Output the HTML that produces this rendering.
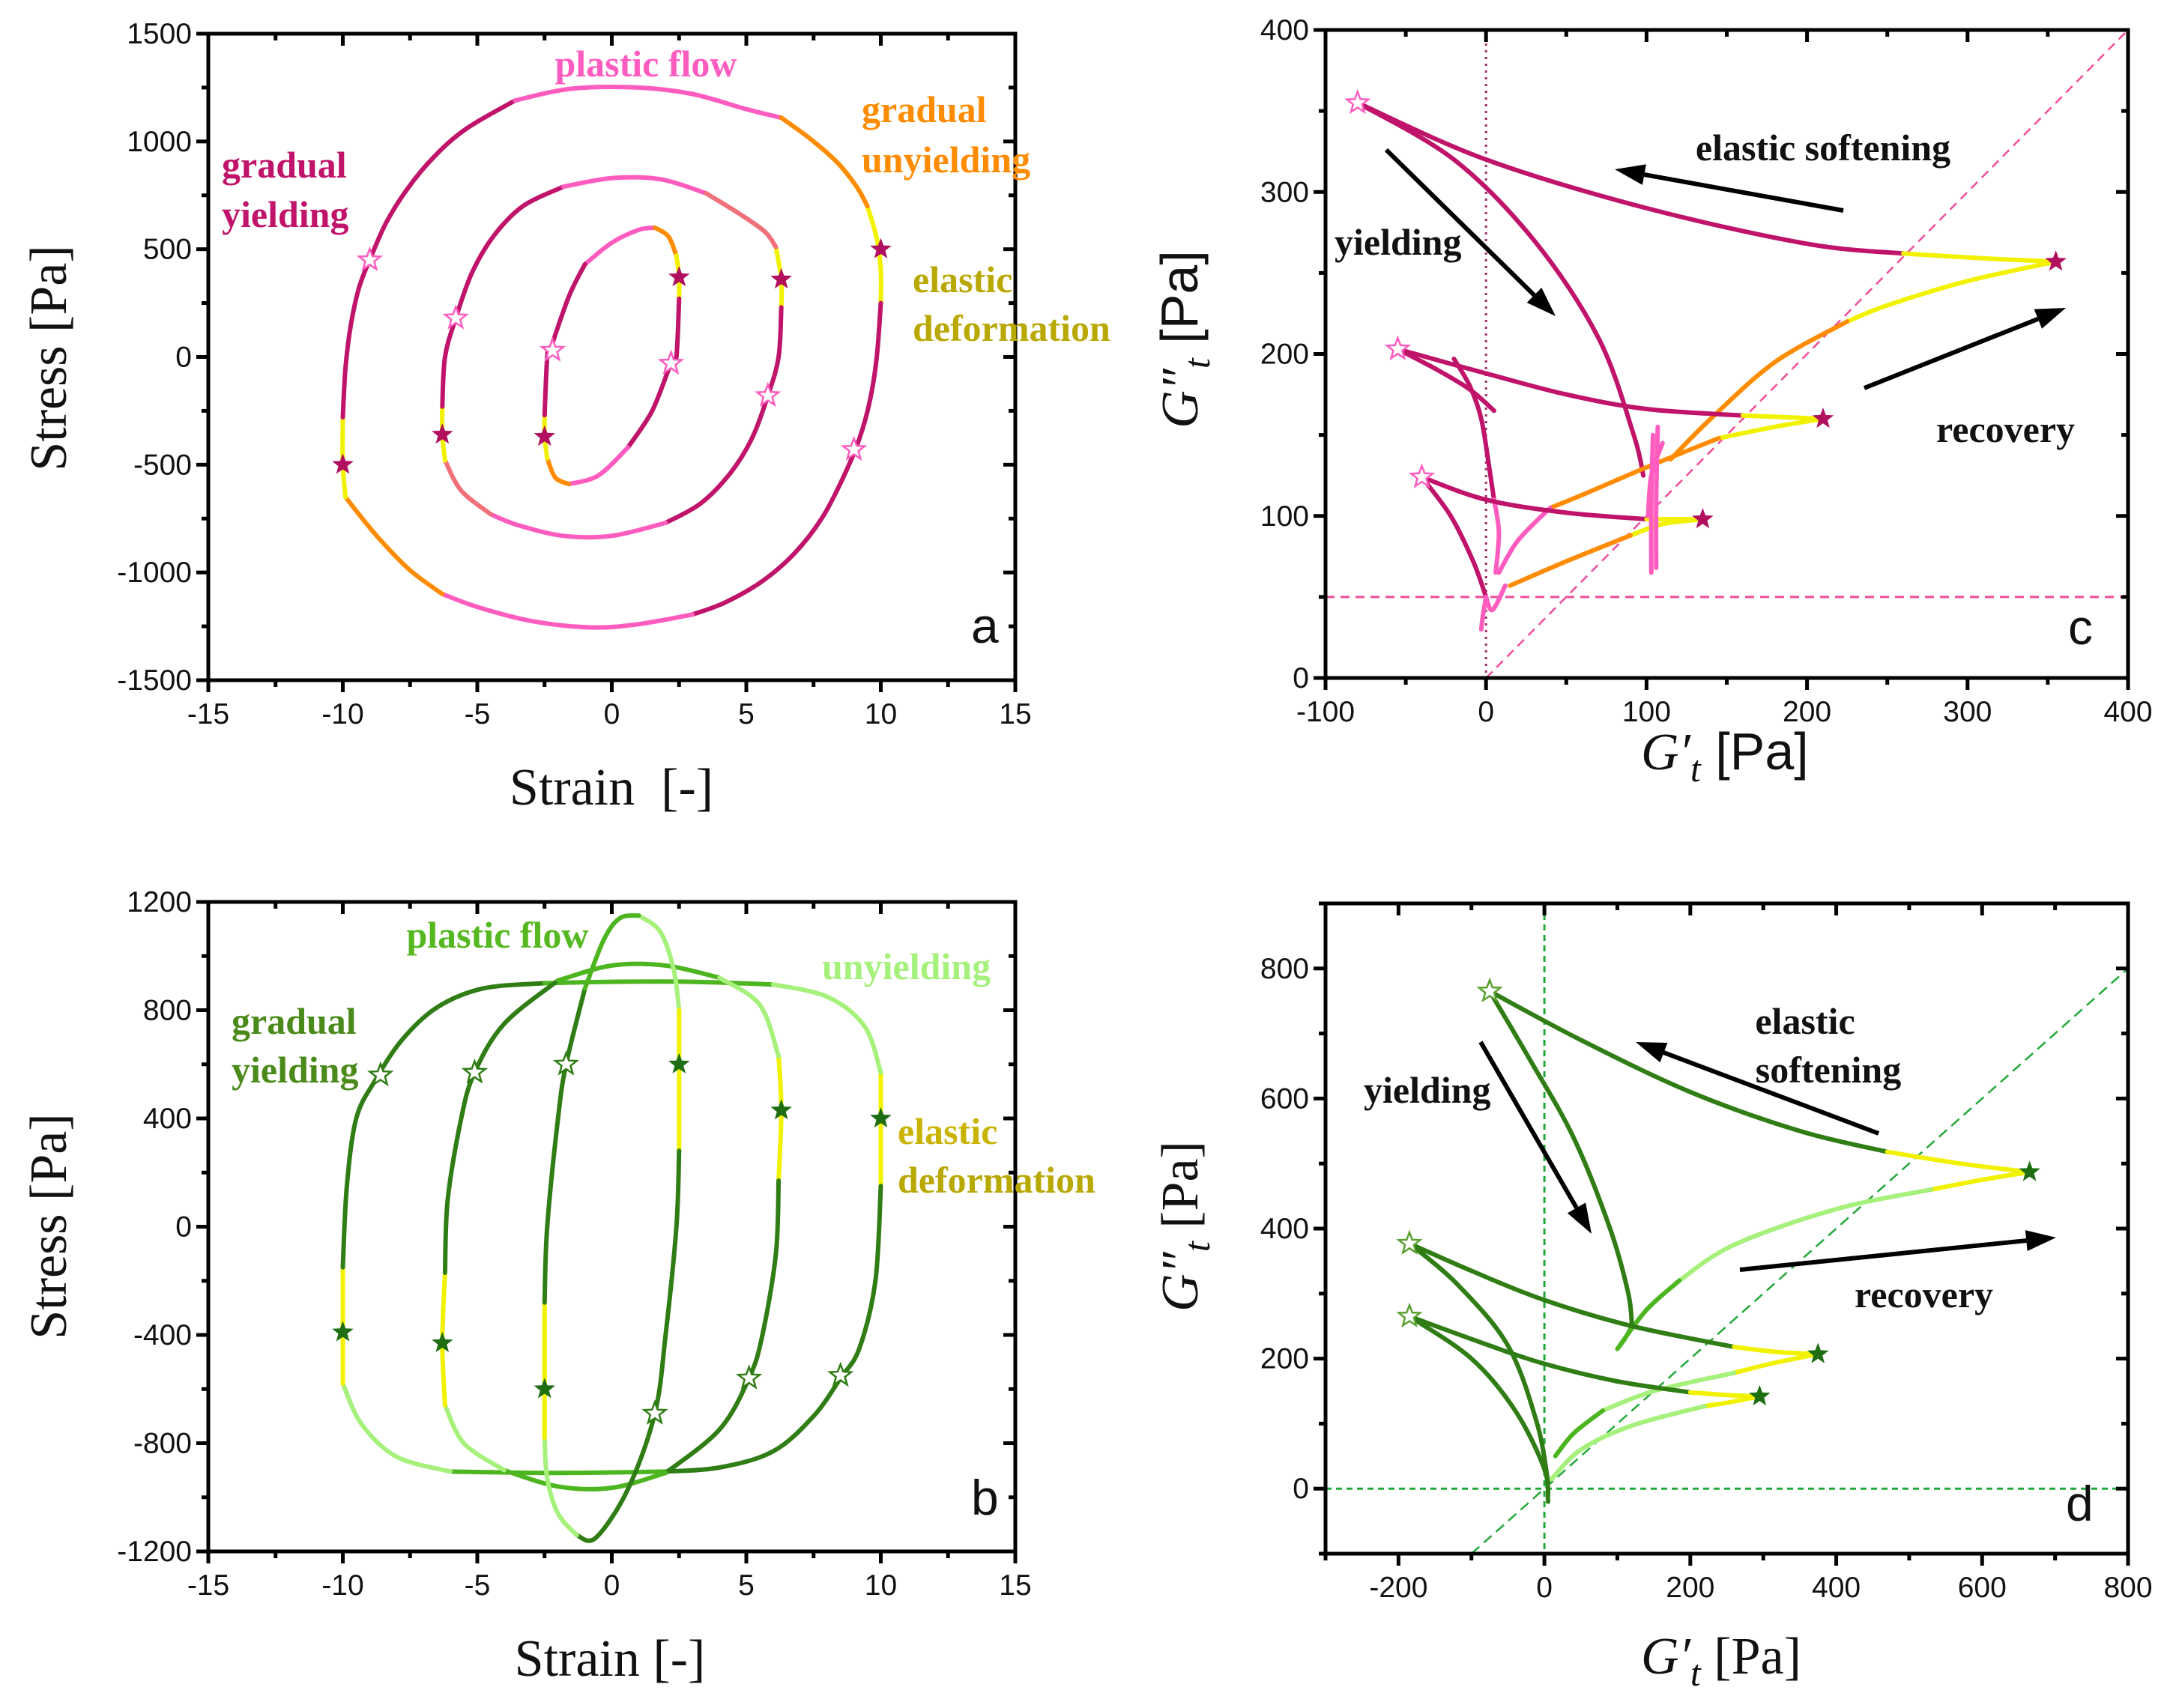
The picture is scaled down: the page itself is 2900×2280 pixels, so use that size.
<!DOCTYPE html>
<html><head><meta charset="utf-8"><style>
html,body{margin:0;padding:0;background:#fff;}
svg{display:block;}
.tick{font-family:"Liberation Sans",sans-serif;font-size:39px;fill:#111;}
.ann{font-family:"Liberation Serif",serif;font-weight:bold;font-size:50px;}
.ttl{font-family:"Liberation Serif",serif;font-size:70px;fill:#111;}
</style></head><body>
<svg id="fig" width="2900" height="2280" viewBox="0 0 2900 2280" xmlns="http://www.w3.org/2000/svg">
<rect width="2900" height="2280" fill="#fff"/>
</svg>
<script>
// ---------- data ----------
const aXTicks=[-15,-10,-5,0,5,10,15];
const aYTicks=[-1500,-1000,-500,0,500,1000,1500];
const bYTicks=[-1200,-800,-400,0,400,800,1200];
const cXTicks=[-100,0,100,200,300,400];
const cYTicks=[0,100,200,300,400];
const dXTicks=[-200,0,200,400,600,800];
const dYTicks=[0,200,400,600,800];

// panel a loops: [colorKey, points]
const aOuter=[
 ['Y',[[9.5,700],[9.85,550],[10,400],[10,250]]],
 ['C',[[10,250],[9.85,0],[9.6,-200],[9.2,-380],[8.6,-560],[7.8,-750],[6.8,-910],[5.6,-1040],[4.2,-1140],[3,-1195]]],
 ['P',[[3,-1195],[1,-1240],[-0.8,-1255],[-3,-1225],[-5,-1160],[-6.3,-1100]]],
 ['O',[[-6.3,-1100],[-7.5,-990],[-8.6,-850],[-9.4,-730],[-9.9,-650]]],
 ['Y',[[-9.9,-650],[-10,-500],[-10,-280]]],
 ['C',[[-10,-280],[-9.9,-50],[-9.7,150],[-9.4,320],[-9,450],[-8.4,620],[-7.6,780],[-6.6,930],[-5.4,1060],[-3.6,1190]]],
 ['P',[[-3.6,1190],[-1.5,1245],[1,1250],[3,1220],[5,1150],[6.3,1110]]],
 ['O',[[6.3,1110],[7.4,1010],[8.4,900],[9.1,790],[9.5,700]]]
];
const aMid=[
 ['Y',[[6.1,510],[6.3,360],[6.3,230]]],
 ['C',[[6.3,230],[6.2,0],[5.8,-180],[5.2,-380],[4.4,-540],[3.3,-680],[2,-770]]],
 ['P',[[2,-770],[0,-830],[-1.8,-830],[-3.5,-780],[-4.5,-730]]],
 ['S',[[-4.5,-730],[-5.6,-620],[-6.2,-480]]],
 ['Y',[[-6.2,-480],[-6.3,-360],[-6.3,-230]]],
 ['C',[[-6.3,-230],[-6.2,0],[-5.8,180],[-5.2,390],[-4.4,560],[-3.3,700],[-1.8,790]]],
 ['P',[[-1.8,790],[0,830],[1.8,825],[3.5,760]]],
 ['S',[[3.5,760],[4.8,660],[5.7,580],[6.1,510]]]
];
const aIn=[
 ['P',[[-1,430],[0,530],[1,590],[1.6,600]]],
 ['O',[[1.6,600],[2.1,560],[2.4,470]]],
 ['Y',[[2.4,470],[2.5,370],[2.5,270]]],
 ['C',[[2.5,270],[2.4,0],[2.2,-30],[1.5,-250],[0.6,-420]]],
 ['P',[[0.6,-420],[-0.5,-550],[-1.6,-590]]],
 ['O',[[-1.6,-590],[-2.1,-560],[-2.4,-470]]],
 ['Y',[[-2.4,-470],[-2.5,-370],[-2.5,-270]]],
 ['C',[[-2.5,-270],[-2.4,0],[-2.3,30],[-1.6,280],[-1,430]]]
];
const aStarsFilled=[[10,500],[6.3,360],[2.5,370],[-2.5,-370],[-6.3,-360],[-10,-500]];
const aStarsOpen=[[-9,450],[-5.8,180],[-2.2,30],[2.2,-30],[5.8,-180],[9,-430]];

// panel b loops
const bOuter=[
 ['Y',[[10,570],[10,400],[10,150]]],
 ['D',[[10,150],[9.8,-200],[9.2,-450],[8.5,-560],[7.5,-700],[6,-830],[4,-890],[2,-905]]],
 ['M',[[2,-905],[-2,-910],[-6,-905]]],
 ['L',[[-6,-905],[-8,-850],[-9.3,-730],[-10,-580]]],
 ['Y',[[-10,-580],[-10,-390],[-10,-150]]],
 ['D',[[-10,-150],[-9.85,150],[-9.5,400],[-8.8,540],[-7.8,690],[-6.5,810],[-4.8,880],[-2.5,900]]],
 ['M',[[-2.5,900],[0,905],[3,905],[6,895]]],
 ['L',[[6,895],[8,850],[9.4,740],[10,570]]]
];
const bMid=[
 ['Y',[[6.2,630],[6.3,430],[6.2,170]]],
 ['D',[[6.2,170],[6.1,-100],[5.6,-400],[5.1,-560],[4,-750],[2,-910]]],
 ['M',[[2,-910],[0,-965],[-2,-960],[-4,-900]]],
 ['L',[[-4,-900],[-5.5,-800],[-6.2,-660]]],
 ['Y',[[-6.2,-660],[-6.3,-430],[-6.2,-170]]],
 ['D',[[-6.2,-170],[-6.1,100],[-5.6,400],[-5.1,570],[-4,750],[-2,910]]],
 ['M',[[-2,910],[0,965],[2,965],[4,920]]],
 ['L',[[4,920],[5.5,820],[6.2,630]]]
];
const bIn=[
 ['L',[[1,1150],[1.8,1090],[2.3,950],[2.5,800]]],
 ['Y',[[2.5,800],[2.5,600],[2.5,280]]],
 ['D',[[2.5,280],[2.4,0],[2,-400],[1.6,-690],[0.6,-970],[-0.6,-1150],[-1.3,-1140]]],
 ['L',[[-1.3,-1140],[-2,-1060],[-2.4,-930],[-2.5,-780]]],
 ['Y',[[-2.5,-780],[-2.5,-600],[-2.5,-280]]],
 ['D',[[-2.5,-280],[-2.4,0],[-2,400],[-1.7,600],[-1,880]]],
 ['M',[[-1,880],[-0.3,1060],[0.3,1140],[1,1150]]]
];
const bStarsFilled=[[10,400],[6.3,430],[2.5,600],[-2.5,-600],[-6.3,-430],[-10,-390]];
const bStarsOpen=[[-8.6,560],[-5.1,570],[-1.7,600],[1.6,-690],[5.1,-560],[8.5,-550]];

// panel c branches
const cCurves=[
 ['C',[[-80,355],[0,320],[100,290],[200,268],[260,262]]],
 ['Y',[[260,262],[310,259],[355,257]]],
 ['Y',[[355,257],[300,245],[250,230],[225,220]]],
 ['O',[[225,220],[180,195],[140,160],[115,135]]],
 ['C',[[-80,355],[-20,320],[30,270],[70,210],[92,150],[98,125]]],
 ['C',[[-55,203],[0,188],[50,175],[100,166],[160,162]]],
 ['Y',[[160,162],[185,161],[210,160]]],
 ['Y',[[210,160],[180,155],[145,148]]],
 ['O',[[145,148],[100,130],[60,113],[40,105]]],
 ['P',[[40,105],[20,85],[8,65]]],
 ['C',[[-55,203],[-30,190],[-10,178],[5,165]]],
 ['C',[[-20,197],[-10,180],[-3,160],[2,130],[5,110]]],
 ['P',[[5,110],[8,90],[6,65]]],
 ['C',[[-40,124],[0,110],[50,102],[100,98]]],
 ['Y',[[100,98],[120,98],[135,98]]],
 ['Y',[[135,98],[110,95],[90,88]]],
 ['O',[[90,88],[50,72],[15,57]]],
 ['C',[[-40,124],[-22,100],[-8,72],[0,50]]],
 ['P',[[0,50],[4,42],[12,57]]],
 ['P',[[0,50],[-2,38],[-3,30]]],
 ['P',[[103,65],[103,110],[104,150]]],
 ['P',[[106,68],[106,110],[107,155]]],
 ['P',[[101,100],[103,125],[110,145]]]
];
const cStarsFilled=[[355,257],[210,160],[135,98]];
const cStarsOpen=[[-80,355],[-55,203],[-40,124]];

// panel d branches
const dCurves=[
 ['D',[[-75,765],[50,690],[200,610],[350,550],[470,518]]],
 ['Y',[[470,518],[570,500],[665,487]]],
 ['Y',[[665,487],[600,475],[530,460]]],
 ['L',[[530,460],[400,430],[260,375],[185,320]]],
 ['M',[[185,320],[140,275],[100,215]]],
 ['D',[[-75,765],[-20,660],[40,540],[90,400],[115,300],[120,250]]],
 ['M',[[120,250],[110,230],[100,215]]],
 ['D',[[-185,377],[-100,335],[0,290],[120,250],[260,218]]],
 ['Y',[[260,218],[320,210],[375,207]]],
 ['Y',[[375,207],[310,192],[260,178]]],
 ['L',[[260,178],[150,150],[80,120]]],
 ['M',[[80,120],[40,85],[15,50]]],
 ['D',[[-185,377],[-120,315],[-50,220],[-10,100],[5,10]]],
 ['D',[[-185,265],[-80,222],[0,192],[100,165],[200,148]]],
 ['Y',[[200,148],[250,144],[295,142]]],
 ['Y',[[295,142],[250,132],[220,127]]],
 ['L',[[220,127],[120,97],[50,60],[10,15]]],
 ['D',[[-185,265],[-100,200],[-40,120],[0,30],[5,-20]]]
];
const dStarsFilled=[[665,487],[375,207],[295,142]];
const dStarsOpen=[[-75,765],[-185,377],[-185,265]];

// ---------- drawing ----------
const NS='http://www.w3.org/2000/svg';
const svg=document.getElementById('fig');
function el(tag,attrs,parent){const e=document.createElementNS(NS,tag);for(const k in attrs)e.setAttribute(k,attrs[k]);(parent||svg).appendChild(e);return e;}
const COL={C:'#c0136a',P:'#ff5cc0',O:'#ff8c00',Y:'#f2f200',S:'#f0707a',D:'#2f7d14',M:'#4db51f',L:'#a6f07c'};

function makeAxes(p){
  p.sx=v=>p.x0+(v-p.xmin)/(p.xmax-p.xmin)*(p.x1-p.x0);
  p.sy=v=>p.y1-(v-p.ymin)/(p.ymax-p.ymin)*(p.y1-p.y0);
}
function smoothPath(pts,p){
  const P=pts.map(q=>[p.sx(q[0]),p.sy(q[1])]);
  let d='M'+P[0][0].toFixed(1)+','+P[0][1].toFixed(1);
  for(let i=0;i<P.length-1;i++){
    const p0=P[i-1]||P[i],p1=P[i],p2=P[i+1],p3=P[i+2]||P[i+1];
    const c1=[p1[0]+(p2[0]-p0[0])/6,p1[1]+(p2[1]-p0[1])/6];
    const c2=[p2[0]-(p3[0]-p1[0])/6,p2[1]-(p3[1]-p1[1])/6];
    d+='C'+c1.map(v=>v.toFixed(1)).join(',')+' '+c2.map(v=>v.toFixed(1)).join(',')+' '+p2[0].toFixed(1)+','+p2[1].toFixed(1);
  }
  return d;
}
function starPath(cx,cy,r){
  let d='';
  for(let i=0;i<10;i++){const rr=i%2?r*0.42:r;const a=-Math.PI/2+i*Math.PI/5;d+=(i?'L':'M')+(cx+rr*Math.cos(a)).toFixed(1)+','+(cy+rr*Math.sin(a)).toFixed(1);}
  return d+'Z';
}
function drawFrame(p,g,xt,yt,xminor,yminor){
  const ax=el('g',{},g);
  
  
  el('rect',{x:p.x0,y:p.y0,width:p.x1-p.x0,height:p.y1-p.y0,fill:'none',stroke:'#000','stroke-width':5},ax);
  const xs=[];for(let v=p.xmin;v<=p.xmax+1e-9;v+=xminor)xs.push(v);
  xs.forEach(v=>{const X=p.sx(v);const maj=xt.some(t=>Math.abs(t-v)<1e-9);const L=maj?16:9;
    el('line',{x1:X,y1:p.y1,x2:X,y2:p.y1+L,stroke:'#000','stroke-width':5},ax);
    el('line',{x1:X,y1:p.y0,x2:X,y2:p.y0+L,stroke:'#000','stroke-width':5},ax);});
  const ys=[];for(let v=p.ymin;v<=p.ymax+1e-9;v+=yminor)ys.push(v);
  ys.forEach(v=>{const Y=p.sy(v);const maj=yt.some(t=>Math.abs(t-v)<1e-9);const L=maj?16:9;
    el('line',{x1:p.x0-L,y1:Y,x2:p.x0,y2:Y,stroke:'#000','stroke-width':5},ax);
    el('line',{x1:p.x1-L,y1:Y,x2:p.x1,y2:Y,stroke:'#000','stroke-width':5},ax);});
  xt.forEach(v=>{const t=el('text',{x:p.sx(v),y:p.y1+58,'text-anchor':'middle',class:'tick'},g);t.textContent=v;
    });
  yt.forEach(v=>{const t=el('text',{x:p.x0-22,y:p.sy(v)+13,'text-anchor':'end',class:'tick'},g);t.textContent=v;
    });
}
function drawSegs(segs,p,g,name){
  segs.forEach(s=>{const e=el('path',{d:smoothPath(s[1],p),fill:'none',stroke:COL[s[0]],'stroke-width':6,'stroke-linecap':'round','stroke-linejoin':'round'},g);
    
    });
}
function drawStars(filled,open,p,g,fillCol,openCol){
  filled.forEach(q=>{const e=el('path',{d:starPath(p.sx(q[0]),p.sy(q[1]),15),fill:fillCol},g);
    });
  open.forEach(q=>{const e=el('path',{d:starPath(p.sx(q[0]),p.sy(q[1]),15),fill:'#fff',stroke:openCol,'stroke-width':2.5},g);
    });
}
function text(g,x,y,str,cls,fill,name,extra){
  const t=el('text',Object.assign({x:x,y:y,class:cls,fill:fill},extra||{}),g);t.textContent=str;
  return t;
}
function arrow(g,x1,y1,x2,y2){
  const a=Math.atan2(y2-y1,x2-x1),L=40,W=14;
  const bx=x2-L*Math.cos(a),by=y2-L*Math.sin(a);
  el('line',{x1:x1,y1:y1,x2:bx,y2:by,stroke:'#000','stroke-width':6},g);
  el('path',{d:`M${x2},${y2}L${bx+W*Math.sin(a)},${by-W*Math.cos(a)}L${bx-W*Math.sin(a)},${by+W*Math.cos(a)}Z`,fill:'#000'},g);
}

// Panel a
const pa={x0:278,x1:1355,y0:45,y1:908,xmin:-15,xmax:15,ymin:-1500,ymax:1500};makeAxes(pa);
const ga=el('g',{});
drawSegs(aOuter,pa,ga,'loop-strain-10');drawSegs(aMid,pa,ga,'loop-strain-6');drawSegs(aIn,pa,ga,'loop-strain-2.5');
drawStars(aStarsFilled,aStarsOpen,pa,ga,'#b0105e','#ff5cc0');
drawFrame(pa,ga,aXTicks,aYTicks,2.5,250);
text(ga,862,102,'plastic flow','ann','#ff5cc0','label-plastic-flow',{'text-anchor':'middle'});
text(ga,296,237,'gradual','ann','#c0136a','label-gradual-yielding');
text(ga,296,303,'yielding','ann','#c0136a','label-gradual-yielding-2');
text(ga,1150,163,'gradual','ann','#ff8c00','label-gradual-unyielding');
text(ga,1150,230,'unyielding','ann','#ff8c00','label-gradual-unyielding-2');
text(ga,1218,390,'elastic','ann','#b8a800','label-elastic-deformation');
text(ga,1218,455,'deformation','ann','#b8a800','label-elastic-deformation-2');
text(ga,1296,858,'a','ttl','#111','panel-letter-a',{style:'font-family:Liberation Sans,sans-serif;font-size:66px'});
text(ga,816,1074,'Strain  [-]','ttl','#111','x-axis-title',{'text-anchor':'middle',style:'white-space:pre'});
text(ga,0,0,'Stress [Pa]','ttl','#111','y-axis-title',{'text-anchor':'middle',transform:'translate(88,478) rotate(-90)'});

// Panel b
const pb={x0:278,x1:1355,y0:1204,y1:2071,xmin:-15,xmax:15,ymin:-1200,ymax:1200};makeAxes(pb);
const gb=el('g',{});
drawSegs(bOuter,pb,gb,'loop-strain-10');drawSegs(bMid,pb,gb,'loop-strain-6');drawSegs(bIn,pb,gb,'loop-strain-2.5');
drawStars(bStarsFilled,bStarsOpen,pb,gb,'#1f6e14','#2f7d14');
drawFrame(pb,gb,aXTicks,bYTicks,2.5,200);
text(gb,664,1265,'plastic flow','ann','#55b820','label-plastic-flow',{'text-anchor':'middle'});
text(gb,1097,1307,'unyielding','ann','#a6f07c','label-unyielding');
text(gb,309,1380,'gradual','ann','#4a8a1a','label-gradual-yielding');
text(gb,309,1445,'yielding','ann','#4a8a1a','label-gradual-yielding-2');
text(gb,1198,1527,'elastic','ann','#c8b400','label-elastic-deformation');
text(gb,1198,1592,'deformation','ann','#b8a800','label-elastic-deformation-2');
text(gb,1296,2022,'b','ttl','#111','panel-letter-b',{style:'font-family:Liberation Sans,sans-serif;font-size:66px'});
text(gb,814,2237,'Strain [-]','ttl','#111','x-axis-title',{'text-anchor':'middle'});
text(gb,0,0,'Stress [Pa]','ttl','#111','y-axis-title',{'text-anchor':'middle',transform:'translate(88,1637) rotate(-90)'});

// Panel c
const pc={x0:1769,x1:2840,y0:40,y1:905,xmin:-100,xmax:400,ymin:0,ymax:400};makeAxes(pc);
const gc=el('g',{});
el('line',{x1:pc.sx(0),y1:pc.y0,x2:pc.sx(0),y2:pc.y1,stroke:'#a0306a','stroke-width':3,'stroke-dasharray':'3,6'},gc);
el('line',{x1:pc.x0,y1:pc.sy(50),x2:pc.x1,y2:pc.sy(50),stroke:'#f04c9a','stroke-width':3,'stroke-dasharray':'12,8'},gc);
el('line',{x1:pc.sx(0),y1:pc.sy(0),x2:pc.sx(400),y2:pc.sy(400),stroke:'#f04c9a','stroke-width':2.5,'stroke-dasharray':'12,8'},gc);
drawSegs(cCurves,pc,gc,'lissajous-moduli-curve');
drawStars(cStarsFilled,cStarsOpen,pc,gc,'#b0105e','#ff5cc0');
drawFrame(pc,gc,cXTicks,cYTicks,50,50);
arrow(gc,2460,281,2155,226);arrow(gc,1850,200,2076,422);arrow(gc,2488,518,2757,411);
text(gc,2433,214,'elastic softening','ann','#111','label-elastic-softening',{'text-anchor':'middle'});
text(gc,1781,340,'yielding','ann','#111','label-yielding');
text(gc,2584,590,'recovery','ann','#111','label-recovery');
text(gc,2760,860,'c','ttl','#111','panel-letter-c',{style:'font-family:Liberation Sans,sans-serif;font-size:66px'});
const cx=text(gc,2190,1027,'','ttl','#111','x-axis-title');
cx.innerHTML='<tspan font-style="italic">G′</tspan><tspan font-style="italic" font-size="50" dy="16">t</tspan><tspan dy="-16" font-family="Liberation Sans,sans-serif"> [Pa]</tspan>';
const cy=text(gc,0,0,'','ttl','#111','y-axis-title',{'text-anchor':'middle',transform:'translate(1598,453) rotate(-90)'});
cy.innerHTML='<tspan font-style="italic">G″</tspan><tspan font-style="italic" font-size="50" dy="16">t</tspan><tspan dy="-16" font-family="Liberation Sans,sans-serif"> [Pa]</tspan>';

// Panel d
const pd={x0:1769,x1:2840,y0:1206,y1:2074,xmin:-300,xmax:800,ymin:-100,ymax:900};makeAxes(pd);
const gd=el('g',{});
el('line',{x1:pd.sx(0),y1:pd.y0,x2:pd.sx(0),y2:pd.y1,stroke:'#22a83a','stroke-width':3,'stroke-dasharray':'8,6'},gd);
el('line',{x1:pd.x0,y1:pd.sy(0),x2:pd.x1,y2:pd.sy(0),stroke:'#22a83a','stroke-width':3,'stroke-dasharray':'8,6'},gd);
el('line',{x1:pd.sx(-100),y1:pd.sy(-100),x2:pd.sx(800),y2:pd.sy(800),stroke:'#22a83a','stroke-width':2.5,'stroke-dasharray':'14,8'},gd);
drawSegs(dCurves,pd,gd,'lissajous-moduli-curve');
drawStars(dStarsFilled,dStarsOpen,pd,gd,'#1f6e14','#5aa030');
drawFrame(pd,gd,dXTicks,dYTicks,100,100);
arrow(gd,2507,1513,2183,1391);arrow(gd,1976,1391,2124,1647);arrow(gd,2322,1695,2744,1652);
text(gd,2409,1380,'elastic','ann','#111','label-elastic-softening',{'text-anchor':'middle'});
text(gd,2440,1445,'softening','ann','#111','label-elastic-softening-2',{'text-anchor':'middle'});
text(gd,1820,1472,'yielding','ann','#111','label-yielding');
text(gd,2475,1745,'recovery','ann','#111','label-recovery');
text(gd,2757,2030,'d','ttl','#111','panel-letter-d',{style:'font-family:Liberation Sans,sans-serif;font-size:66px'});
const dx=text(gd,2190,2234,'','ttl','#111','x-axis-title');
dx.innerHTML='<tspan font-style="italic">G′</tspan><tspan font-style="italic" font-size="50" dy="16">t</tspan><tspan dy="-16"> [Pa]</tspan>';
const dy=text(gd,0,0,'','ttl','#111','y-axis-title',{'text-anchor':'middle',transform:'translate(1598,1637) rotate(-90)'});
dy.innerHTML='<tspan font-style="italic">G″</tspan><tspan font-style="italic" font-size="50" dy="16">t</tspan><tspan dy="-16"> [Pa]</tspan>';
</script>
</body></html>
